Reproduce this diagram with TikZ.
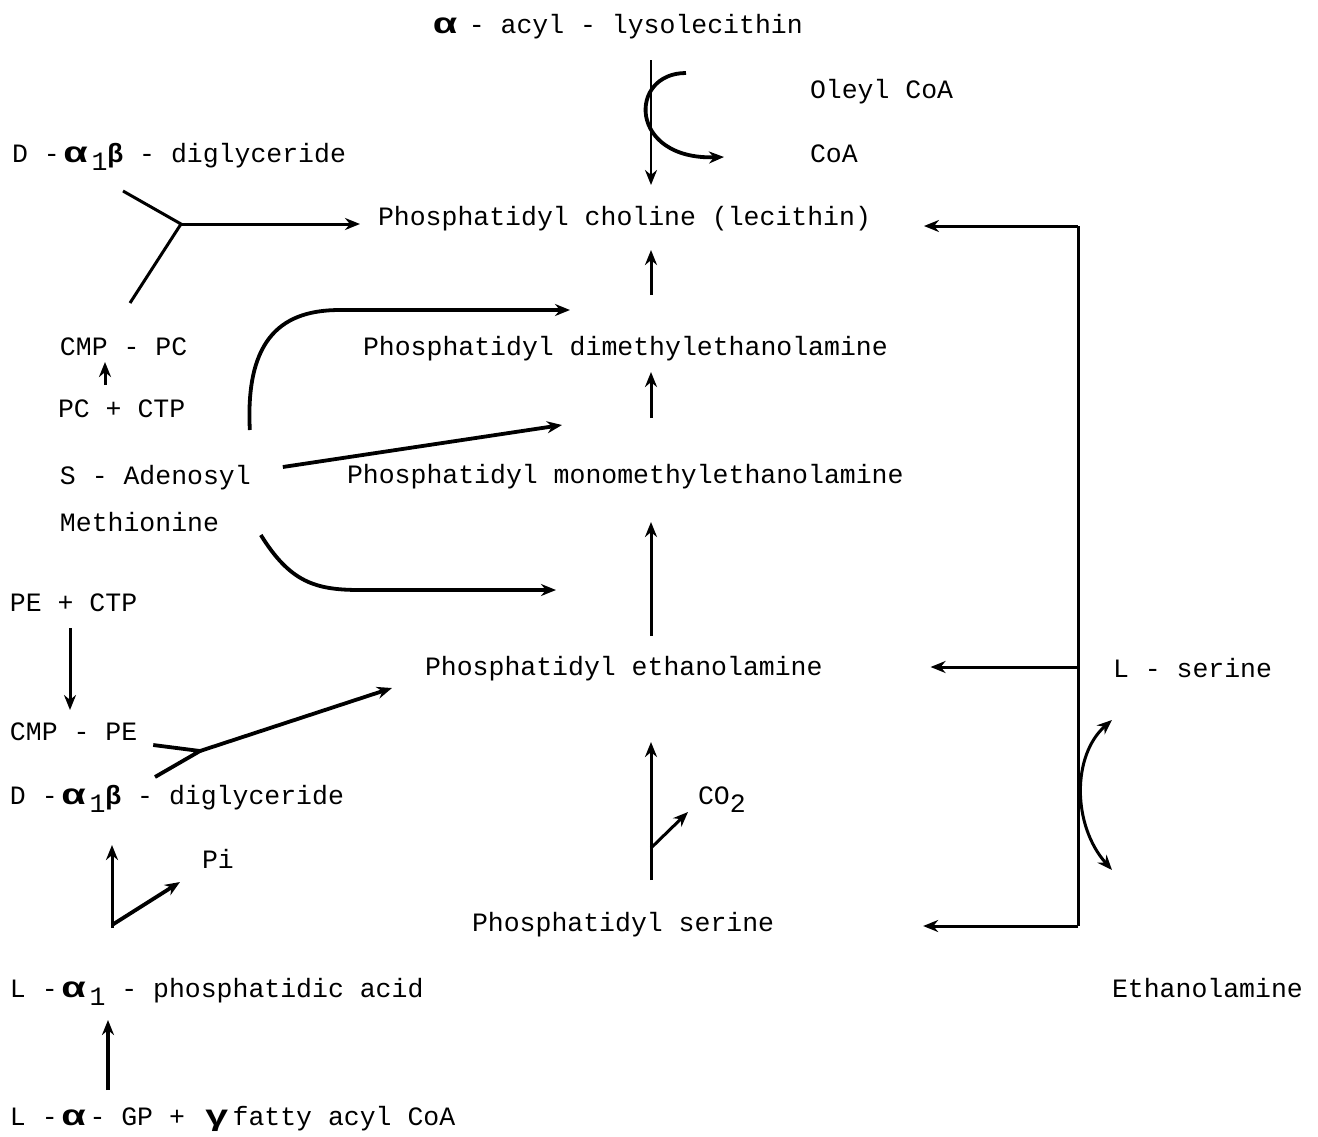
\documentclass[tikz,border=0pt]{standalone}
\usepackage{fontspec}
\setmainfont{Liberation Mono}
\usepackage{graphicx}
\usetikzlibrary{arrows.meta, calc}

\newcommand{\lowr}[1]{\raisebox{-0.6ex}{#1}}
\newcommand{\wide}[1]{\makebox[1.2em][c]{\scalebox{1.5}[1.1]{\bfseries #1}}}

\begin{document}
\begin{tikzpicture}[
    x=0.5pt, y=-0.5pt,
    lbl/.style={anchor=west, inner sep=0pt, outer sep=0pt,
                text height=10pt, text depth=3pt,
                font=\fontsize{13.25}{15}\selectfont},
    arr/.style={-{Stealth[length=7.5pt, width=6pt]}, line width=1.5pt},
    heavy/.style={arr, line width=1.9pt},
    dbl/.style={{Stealth[length=7.5pt, width=6pt]}-{Stealth[length=7.5pt, width=6pt]},
                line width=1.5pt},
    rxn/.style={line width=1.5pt}
  ]
  \useasboundingbox (0,0) rectangle (1318,1136);

  % Main column
  \node[lbl] (lyso) at (437,26) {\makebox[0.6em][c]{\scalebox{1.5}[1.1]{\bfseries α}} - acyl - lysolecithin};
  \node[lbl] (oleyl) at (810,91) {Oleyl CoA};
  \node[lbl] (coa) at (810,155) {CoA};
  \node[lbl] (pc) at (378,218) {Phosphatidyl choline (lecithin)};
  \node[lbl] (pdme) at (363,348) {Phosphatidyl dimethylethanolamine};
  \node[lbl] (pmme) at (347,476) {Phosphatidyl monomethylethanolamine};
  \node[lbl] (pe) at (425,668) {Phosphatidyl ethanolamine};
  \node[lbl] (co2) at (698,797) {CO\lowr{2}};
  \node[lbl] (ps) at (472,924) {Phosphatidyl serine};

  % Left side
  \node[lbl] (dg1) at (12,155) {D -\wide{α}\lowr{1}\textbf{β} - diglyceride};
  \node[lbl] (cmppc) at (60,348) {CMP - PC};
  \node[lbl] (pcctp) at (58,410) {PC + CTP};
  \node[lbl] (sam) at (60,477) {S - Adenosyl};
  \node[lbl] (meth) at (60,524) {Methionine};
  \node[lbl] (pectp) at (10,604) {PE + CTP};
  \node[lbl] (cmppe) at (10,733) {CMP - PE};
  \node[lbl] (dg2) at (10,797) {D -\wide{α}\lowr{1}\textbf{β} - diglyceride};
  \node[lbl] (pi) at (202,861) {Pi};
  \node[lbl] (pa) at (10,990) {L -\wide{α}\lowr{1} - phosphatidic acid};
  \node[lbl] (gp) at (10,1118) {L -\wide{α}- GP + \wide{γ}fatty acyl CoA};

  % Right side
  \node[lbl] (ser) at (1113,670) {L - serine};
  \node[lbl] (eth) at (1112,990) {Ethanolamine};

  \coordinate (colx) at (651,0);

  % Acylation of lysolecithin
  \draw[arr, line width=1.2pt] ($(lyso.west -| colx)+(0,34)$) -- ($(pc.west -| colx)+(0,-33)$);
  \draw[heavy] ($(oleyl.west)+(-124,-18)$) .. controls (628,73) and (628,160)
    .. ($(coa.west)+(-86,2)$);

  % CDP-choline route
  \coordinate (y1) at (181,224);
  \draw[rxn] ($(dg1.west)+(111,36)$) -- (y1) -- ($(cmppc.west)+(70,-45)$);
  \draw[arr] (y1) -- ($(pc.west |- y1)+(-18,0)$);
  \draw[arr] ($(pcctp.west)+(47,-25)$) -- ($(cmppc.west)+(45,14)$);

  % Methylation steps
  \draw[arr] ($(pdme.west -| colx)+(0,-53)$) -- ($(pc.west -| colx)+(0,32)$);
  \draw[arr] ($(pmme.west -| colx)+(0,-58)$) -- ($(pdme.west -| colx)+(0,24)$);
  \draw[arr] ($(pe.west -| colx)+(0,-32)$) -- ($(pmme.west -| colx)+(0,46)$);
  \draw[heavy] ($(sam.east)+(-1,-47)$) .. controls (245,335) and (285,310) .. (340,310)
    -- ($(pdme.west)+(207,-38)$);
  \draw[heavy] ($(sam.east)+(32,-10)$) -- ($(pmme.west)+(215,-51)$);
  \draw[heavy] ($(sam.east)+(10,58)$) .. controls (290,582) and (315,590) .. (360,590)
    -- ($(pe.west)+(131,-78)$);

  % Decarboxylation
  \draw[arr] ($(ps.west -| colx)+(0,-44)$) -- ($(pe.west -| colx)+(0,74)$);
  \coordinate (b2) at (651,848);
  \draw[arr] (b2) -- ($(co2.west)+(-10,15)$);

  % CDP-ethanolamine route
  \draw[arr] ($(pectp.west)+(60,24)$) -- ($(cmppe.west)+(60,-23)$);
  \coordinate (y2) at (200,751);
  \draw[heavy, -] ($(cmppe.east)+(16,12)$) -- (y2) -- ($(dg2.west)+(145,-20)$);
  \draw[heavy] (y2) -- ($(pe.west)+(-33,20)$);

  % Phosphatidic acid
  \draw[arr] ($(pa.west)+(102,-62)$) -- ($(dg2.west)+(102,48)$);
  \coordinate (b1) at (112,925);
  \draw[heavy] (b1) -- ($(pi.west)+(-22,21)$);
  \draw[heavy] ($(gp.west)+(98,-28)$) -- ($(pa.west)+(98,30)$);

  % Base exchange
  \coordinate (r1) at (1078,226);
  \coordinate (r2) at (1078,926);
  \draw[rxn] (r1) -- (r2);
  \draw[arr] (r1) -- ($(pc.east |- r1)+(53,0)$);
  \draw[arr] ($(ser.west)+(-35,-3)$) -- ($(pe.east)+(108,-1)$);
  \draw[arr] (r2) -- ($(ps.east |- r2)+(149,0)$);
  \draw[dbl] ($(ser.west)+(-1,50)$) .. controls (1072,755) and (1072,825)
    .. ($(eth.west)+(0,-120)$);
\end{tikzpicture}
\end{document}
